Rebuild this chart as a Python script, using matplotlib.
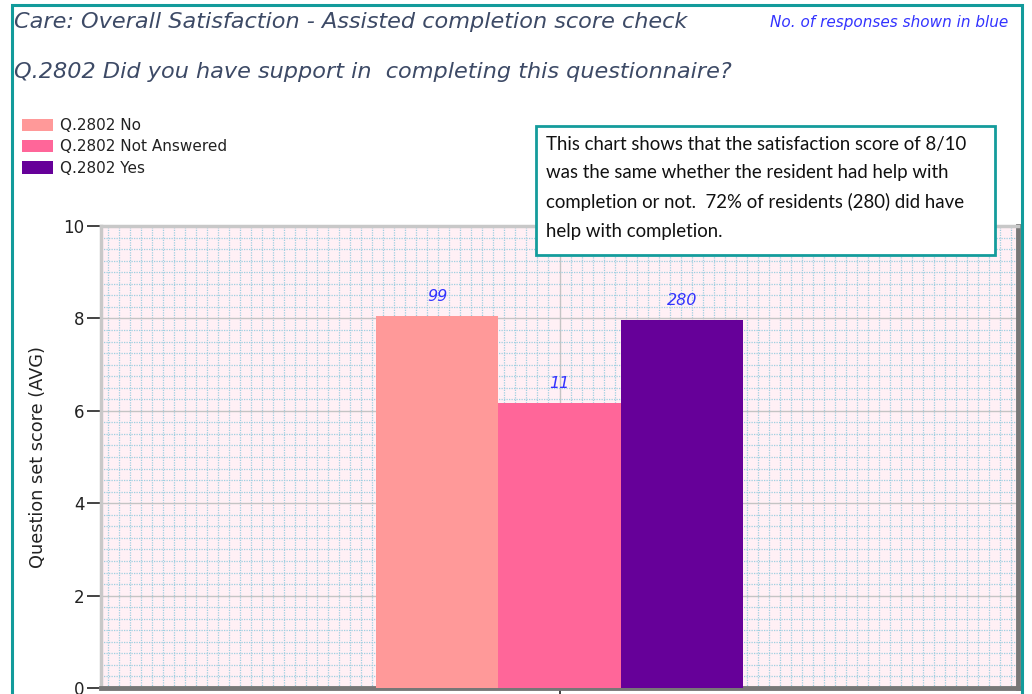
import numpy as np
import matplotlib
matplotlib.use("Agg")
import matplotlib.pyplot as plt
from matplotlib.patches import Rectangle
from matplotlib.ticker import MultipleLocator

plt.rcParams["font.family"] = "DejaVu Sans"

# -------------------------
# Data
# -------------------------
categories = ["Q.2802 No", "Q.2802 Not Answered", "Q.2802 Yes"]
scores = [8.05, 6.17, 7.97]
responses = [99, 11, 280]
colors = ["#ff9999", "#ff6699", "#660099"]

title_1 = "Care: Overall Satisfaction - Assisted completion score check"
title_2 = "Q.2802 Did you have support in  completing this questionnaire?"
note = "No. of responses shown in blue"
comment = ("This chart shows that the satisfaction score of 8/10\n"
           "was the same whether the resident had help with\n"
           "completion or not.  72% of residents (280) did have\n"
           "help with completion.")

W, H = 1032, 694
fig = plt.figure(figsize=(W / 100, H / 100), dpi=100)
fig.patch.set_facecolor("white")

def fx(px):
    return px / W

def fy(py):
    return 1 - py / H

# -------------------------
# Plot area
# -------------------------
ax = fig.add_axes([fx(101), fy(688), fx(1018) - fx(101), fy(226) - fy(688)])
ax.set_facecolor("#fff0f5")

bar_w = 0.1333
n = len(scores)
xs = (np.arange(n) - (n - 1) / 2) * bar_w
bars = ax.bar(xs, scores, width=bar_w, color=colors, edgecolor="none",
              label=categories, zorder=3)
for x, s, r in zip(xs, scores, responses):
    ax.text(x, s + 0.26, str(r), ha="center", va="bottom", fontsize=11.5,
            style="italic", color="#3333ff", zorder=4)

ax.set_xlim(-0.5, 0.5)
ax.set_ylim(0, 10)
ax.set_yticks([0, 2, 4, 6, 8, 10])
ax.set_xticks([0])
ax.set_xticklabels([""])
ax.yaxis.set_minor_locator(MultipleLocator(0.25))
ax.xaxis.set_minor_locator(MultipleLocator(0.012))
ax.grid(which="minor", color="#9fcfe0", linestyle=(0, (1, 1)), linewidth=0.9, zorder=1)
ax.grid(which="major", color="#c4c4c4", linestyle="-", linewidth=1.0, zorder=2)
ax.tick_params(which="minor", length=0)
ax.tick_params(which="major", direction="out", length=10, width=1.2,
               color="#222222", labelsize=12, labelcolor="#222222", pad=2)
ax.set_ylabel("Question set score (AVG)", fontsize=12.8, color="#222222", labelpad=12)

for side in ["top", "left"]:
    ax.spines[side].set_color("#c8c8c8")
    ax.spines[side].set_linewidth(2.5)
for side in ["bottom", "right"]:
    ax.spines[side].set_color("#777777")
    ax.spines[side].set_linewidth(3.5)

# -------------------------
# Legend
# -------------------------
leg = fig.legend(handles=bars.patches, labels=categories, loc="upper left",
                 bbox_to_anchor=(fx(22), fy(118)), frameon=False, fontsize=11,
                 handlelength=2.0, handleheight=0.85, handletextpad=0.5,
                 labelspacing=0.42, borderaxespad=0, borderpad=0)
for t in leg.get_texts():
    t.set_color("#222222")

# -------------------------
# Titles and note
# -------------------------
fig.text(fx(14), fy(22), title_1, fontsize=16.1, style="italic", color="#3d4a66",
         ha="left", va="center")
fig.text(fx(14), fy(72), title_2, fontsize=16.1, style="italic", color="#3d4a66",
         ha="left", va="center")
fig.text(fx(1008), fy(22), note, fontsize=11, style="italic", color="#3333ff",
         ha="right", va="center")

# -------------------------
# Comment box
# -------------------------
fig.patches.append(Rectangle((fx(536), fy(255)), fx(995) - fx(536), fy(126) - fy(255),
                             transform=fig.transFigure, facecolor="white",
                             edgecolor="#149c9c", linewidth=2, zorder=5))
fig.text(fx(546), fy(136), comment, fontsize=13.4, family="Lato", color="#111111",
         ha="left", va="top", linespacing=1.8, zorder=6)

# -------------------------
# Outer frame
# -------------------------
fig.patches.append(Rectangle((fx(12), fy(720)), fx(1022) - fx(12), fy(5) - fy(720),
                             transform=fig.transFigure, facecolor="none",
                             edgecolor="#129b9b", linewidth=2.2, zorder=10,
                             clip_on=False))

fig.savefig("out.png", dpi=100)
